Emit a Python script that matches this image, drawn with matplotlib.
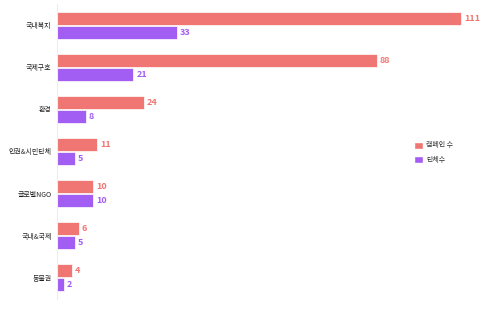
import numpy as np
import matplotlib.pyplot as plt
from matplotlib.patches import Patch

plt.rcParams['font.family'] = ['Noto Sans CJK KR', 'DejaVu Sans']

categories = ["국내복지", "국제구호", "환경", "인권&시민단체", "글로벌NGO", "국내&국제", "동물권"]
campaigns = [111, 88, 24, 11, 10, 6, 4]
groups = [33, 21, 8, 5, 10, 5, 2]

RED = "#EF7672"
PURPLE = "#A25DF2"


def main():
    fig = plt.figure(figsize=(5, 3.15), dpi=100)
    ax = fig.add_axes([57 / 500, 1 - 299 / 315, (480 - 57) / 500, 295 / 315])

    y = np.arange(len(categories))
    h = 0.315
    off = 0.162

    b1 = ax.barh(y - off, campaigns, height=h, color=RED,
                 edgecolor="white", linewidth=0.5)
    b2 = ax.barh(y + off, groups, height=h, color=PURPLE,
                 edgecolor="white", linewidth=0.5)

    ax.bar_label(b1, padding=2, color=RED, fontsize=6.5, fontweight="bold")
    ax.bar_label(b2, padding=2, color=PURPLE, fontsize=6.5, fontweight="bold")

    ax.set_xlim(0, 111 * 423 / 404)
    ax.set_ylim(len(categories) - 0.49, -0.51)

    ax.set_yticks(y)
    ax.set_yticklabels(categories, fontsize=5, color="#222222", fontweight="medium")
    ax.tick_params(axis="y", length=0, pad=4)
    ax.set_xticks([])

    for s in ["top", "right", "bottom"]:
        ax.spines[s].set_visible(False)
    ax.spines["left"].set_color("#eeeeee")
    ax.spines["left"].set_linewidth(0.8)

    handles = [Patch(facecolor=RED, edgecolor="white", label="캠페인 수"),
               Patch(facecolor=PURPLE, edgecolor="white", label="단체수")]
    fig.legend(handles=handles, loc="upper left",
               bbox_to_anchor=(411 / 500, 1 - 138 / 315),
               bbox_transform=fig.transFigure,
               frameon=False, fontsize=5, borderpad=0,
               handlelength=1.2, handleheight=1.2,
               handletextpad=0.5, labelspacing=0.95,
               labelcolor="#333333")

    fig.savefig("out.png", dpi=100)


if __name__ == "__main__":
    main()
